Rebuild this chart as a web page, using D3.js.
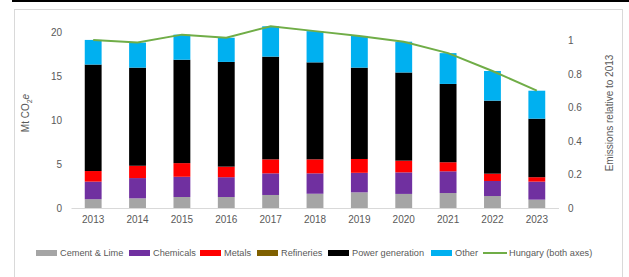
<!DOCTYPE html>
<html>
<head>
<meta charset="utf-8">
<script src="https://cdn.jsdelivr.net/npm/d3@7"></script>
<style>
  body { margin: 0; background: #fff; }
  svg { display: block; font-family: "Liberation Sans", Arial, sans-serif; }
</style>
</head>
<body>
<div id="chart"></div>
<script>
// data (Mt CO2e)
var years = ['2013','2014','2015','2016','2017','2018','2019','2020','2021','2022','2023'];
var cement = [1.0, 1.1, 1.25, 1.25, 1.48, 1.62, 1.78, 1.6, 1.7, 1.36, 0.95];
var chemicals = [2.0, 2.3, 2.3, 2.25, 2.46, 2.32, 2.22, 2.45, 2.47, 1.71, 2.05];
var metals = [1.2, 1.4, 1.55, 1.2, 1.59, 1.59, 1.57, 1.33, 1.03, 0.83, 0.5];
var refineries = [0, 0, 0, 0, 0, 0, 0, 0, 0, 0, 0];
var power = [12.1, 11.15, 11.75, 11.9, 11.67, 11.02, 10.38, 10.02, 8.9, 8.3, 6.65];
var other = [2.8, 2.85, 2.85, 2.75, 3.45, 3.55, 3.6, 3.5, 3.5, 3.37, 3.18];
var hungary = [19.1, 18.8, 19.7, 19.35, 20.65, 20.1, 19.55, 18.9, 17.6, 15.57, 13.33];

var leftTicks = [0, 5, 10, 15, 20];
var rightTicks = [0, 0.2, 0.4, 0.6, 0.8, 1];

var seriesNames = ['Cement & Lime','Chemicals','Metals','Refineries','Power generation','Other'];
var seriesColors = ['#A5A5A5','#7030A0','#FF0000','#7F6000','#000000','#00B0F0'];
var lineColor = '#70AD47';

var width = 629, height = 277;

var svg = d3.select('#chart')
  .append('svg')
  .attr('width', width)
  .attr('height', height);

// frame
svg.append('rect')
  .attr('x', 14.5).attr('y', 9.5)
  .attr('width', 608).attr('height', 280)
  .attr('fill', 'none')
  .attr('stroke', '#D9D9D9');

svg.append('line')
  .attr('x1', 12).attr('x2', width)
  .attr('y1', 1).attr('y2', 1)
  .attr('stroke', '#000').attr('stroke-width', 2);

var rows = years.map(function(y, i) {
  return {year: y, 'Cement & Lime': cement[i], 'Chemicals': chemicals[i], 'Metals': metals[i],
    'Refineries': refineries[i], 'Power generation': power[i], 'Other': other[i]};
});

var x = d3.scaleBand().domain(years).range([71, 559]).paddingInner(0.62).paddingOuter(0.31);
var y = d3.scaleLinear().domain([0, 20]).range([208, 32]);
var y2 = d3.scaleLinear().domain([0, 1]).range([208, 40.5]);
var color = d3.scaleOrdinal().domain(seriesNames).range(seriesColors);

var stacked = d3.stack().keys(seriesNames)(rows);

// left axis labels
var yAxis = d3.axisLeft(y).tickValues(leftTicks).tickSize(0).tickPadding(0);
var gy = svg.append('g')
  .attr('transform', 'translate(62,0)')
  .call(yAxis);
gy.select('.domain').remove();
gy.selectAll('text').attr('fill', '#595959').style('font-size', '10px');

// right axis labels
var y2Axis = d3.axisRight(y2).tickValues(rightTicks).tickSize(0).tickPadding(0)
  .tickFormat(function(d) { return d3.format('')(+d.toFixed(1)); });
var gy2 = svg.append('g')
  .attr('transform', 'translate(568,0)')
  .call(y2Axis);
gy2.select('.domain').remove();
gy2.selectAll('text').attr('fill', '#595959').style('font-size', '10px');

// x axis
var xAxis = d3.axisBottom(x).tickSize(0).tickPadding(8);
var gx = svg.append('g')
  .attr('transform', 'translate(0,' + y(0) + ')')
  .call(xAxis);
gx.select('.domain').attr('stroke', '#D9D9D9').attr('d', 'M71.5,0.5H559');
gx.selectAll('text').attr('fill', '#595959').style('font-size', '10px');

// bars
svg.append('g')
  .selectAll('g')
  .data(stacked)
  .join('g')
    .attr('fill', function(d) { return color(d.key); })
  .selectAll('rect')
  .data(function(d) { return d; })
  .join('rect')
    .attr('x', function(d) { return x(d.data.year); })
    .attr('y', function(d) { return y(d[1]); })
    .attr('width', x.bandwidth())
    .attr('height', function(d) { return y(d[0]) - y(d[1]); });

// total line
var line = d3.line()
  .x(function(d, i) { return x(years[i]) + x.bandwidth() / 2; })
  .y(function(d) { return y(d); });

svg.append('path')
  .datum(hungary)
  .attr('d', line)
  .attr('fill', 'none')
  .attr('stroke', lineColor)
  .attr('stroke-width', 2);

// axis titles
var lt = svg.append('text')
  .attr('transform', 'translate(29,113) rotate(-90)')
  .attr('text-anchor', 'middle')
  .attr('fill', '#595959')
  .style('font-size', '10px');
lt.append('tspan').text('Mt CO');
lt.append('tspan').text('2').attr('dy', 3).style('font-size', '7px');
lt.append('tspan').text('e').attr('dy', -3).style('font-style', 'italic');

svg.append('text')
  .attr('transform', 'translate(613,113) rotate(-90)')
  .attr('text-anchor', 'middle')
  .attr('fill', '#595959')
  .style('font-size', '10px')
  .text('Emissions relative to 2013');

// legend
var legendX = [36, 129, 200, 257, 328, 431];
var legend = svg.append('g');
seriesNames.forEach(function(name, i) {
  legend.append('rect')
    .attr('x', legendX[i]).attr('y', 250)
    .attr('width', 21).attr('height', 6)
    .attr('fill', seriesColors[i]);
  legend.append('text')
    .attr('x', legendX[i] + 24).attr('y', 253)
    .attr('dy', '0.35em')
    .attr('fill', '#595959')
    .style('font-size', '9.2px')
    .text(name);
});
legend.append('line')
  .attr('x1', 483).attr('x2', 507)
  .attr('y1', 253).attr('y2', 253)
  .attr('stroke', lineColor).attr('stroke-width', 2);
legend.append('text')
  .attr('x', 509).attr('y', 253)
  .attr('dy', '0.35em')
  .attr('fill', '#595959')
  .style('font-size', '9.2px')
  .text('Hungary (both axes)');
</script>
</body>
</html>
